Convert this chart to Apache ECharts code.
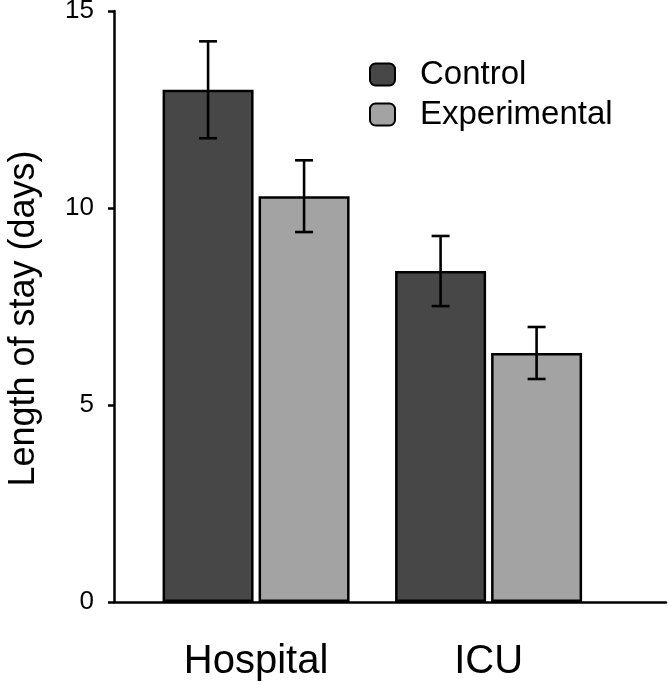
<!DOCTYPE html>
<html lang="en">
<head>
    <meta charset="UTF-8">
    <title>Length of stay</title>
    <script src="https://cdn.jsdelivr.net/npm/echarts@6/dist/echarts.min.js"></script>
    <style>
        body, html { margin: 0; background: #fff; width: 100%; height: 100%; }
        #main { width: 669px; height: 685px; }
    </style>
</head>
<body>
    <div id="main"></div>
    <script>
        var categories = ['Hospital', 'ICU'];
        var controlMean = [13.0, 8.40];
        var controlErr = [1.23, 0.89];
        var expMean = [10.30, 6.32];
        var expErr = [0.91, 0.66];
        var yTicks = [0, 5, 10, 15];

        var font = 'Liberation Sans, Arial, sans-serif';
        var barWidth = 91, barGapPx = 5;
        var half = (barWidth + barGapPx) / 2;

        // category i sits at x = i + 1 on a value axis
        function barData(vals) {
            return vals.map(function (v, i) { return [i + 1, v]; });
        }
        function errData(means, errs) {
            return means.map(function (m, i) { return [i + 1, m - errs[i], m + errs[i]]; });
        }
        function errRender(offset) {
            return function (params, api) {
                var lo = api.coord([api.value(0), api.value(1)]);
                var hi = api.coord([api.value(0), api.value(2)]);
                var x = lo[0] + offset, cap = 9;
                var st = { stroke: '#000', lineWidth: 2.6 };
                return {
                    type: 'group',
                    children: [
                        { type: 'line', shape: { x1: x, y1: lo[1], x2: x, y2: hi[1] }, style: st },
                        { type: 'line', shape: { x1: x - cap, y1: hi[1], x2: x + cap, y2: hi[1] }, style: st },
                        { type: 'line', shape: { x1: x - cap, y1: lo[1], x2: x + cap, y2: lo[1] }, style: st }
                    ]
                };
            };
        }

        var option = {
            animation: false,
            textStyle: { fontFamily: font },
            grid: { left: 114, right: 3, top: 11, bottom: 83, outerBoundsMode: 'none' },
            legend: {
                orient: 'vertical',
                left: 364, top: 53,
                itemWidth: 25, itemHeight: 22,
                itemGap: 7,
                textStyle: { fontSize: 33, color: '#000', fontFamily: font, padding: [0, 0, 0, 20] },
                data: [
                    { name: 'Control', itemStyle: { color: '#474747', borderColor: '#000', borderWidth: 2 } },
                    { name: 'Experimental', itemStyle: { color: '#a3a3a3', borderColor: '#000', borderWidth: 2 } }
                ]
            },
            xAxis: {
                type: 'value',
                min: 0.389, max: 2.763,
                splitLine: { show: false },
                axisLine: { lineStyle: { color: '#000', width: 2.5 } },
                axisTick: { show: false },
                axisLabel: {
                    customValues: [1, 2],
                    formatter: function (v) { return categories[Math.round(v) - 1] || ''; },
                    fontSize: 40, color: '#000', margin: 40
                }
            },
            yAxis: {
                type: 'value',
                min: yTicks[0], max: yTicks[yTicks.length - 1], interval: 5,
                name: 'Length of stay (days)',
                nameLocation: 'middle',
                nameGap: 72,
                nameTextStyle: { fontSize: 36, color: '#000', padding: [0, 24, 0, 0] },
                splitLine: { show: false },
                axisLine: { show: true, lineStyle: { color: '#000', width: 2.5 } },
                axisTick: { show: true, length: 6, lineStyle: { color: '#000', width: 2.5 } },
                axisLabel: { fontSize: 26, color: '#000', margin: 20 }
            },
            series: [
                {
                    name: 'Control', type: 'bar',
                    barWidth: barWidth, barGap: (barGapPx / barWidth * 100) + '%',
                    itemStyle: { color: '#474747', borderColor: '#000', borderWidth: 2.5 },
                    data: barData(controlMean)
                },
                {
                    name: 'Experimental', type: 'bar',
                    barWidth: barWidth,
                    itemStyle: { color: '#a3a3a3', borderColor: '#000', borderWidth: 2.5 },
                    data: barData(expMean)
                },
                {
                    type: 'custom', name: 'errControl',
                    renderItem: errRender(-half),
                    encode: { x: 0, y: [1, 2] },
                    data: errData(controlMean, controlErr), z: 10
                },
                {
                    type: 'custom', name: 'errExp',
                    renderItem: errRender(half),
                    encode: { x: 0, y: [1, 2] },
                    data: errData(expMean, expErr), z: 10
                }
            ]
        };
        var myChart = echarts.init(document.getElementById('main'));
        myChart.setOption(option);
    </script>
</body>
</html>
